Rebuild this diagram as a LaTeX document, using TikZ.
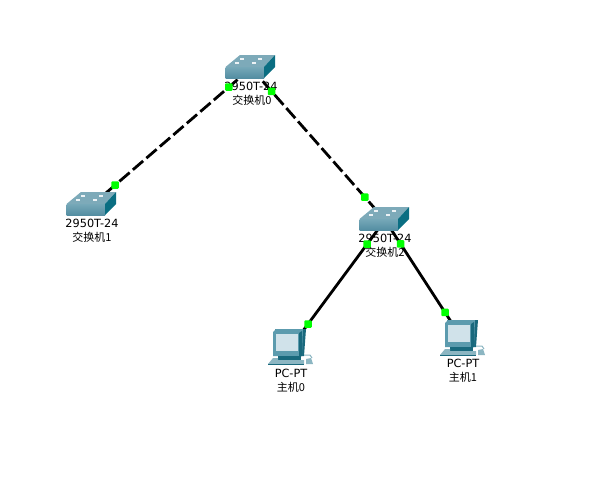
\documentclass[tikz,border=0pt]{standalone}
\usepackage{fontspec}
\setmainfont{DejaVu Sans}
\newfontfamily\cjkfont{Noto Sans CJK SC}
\usepackage{tikz}
\usetikzlibrary{calc}
\definecolor{swtop}  {RGB}{125, 170, 185}
\definecolor{swfront}{RGB}{118, 168, 184}
\definecolor{swshade}{RGB}{ 84, 142, 162}
\definecolor{swside} {RGB}{ 10, 110, 130}
\definecolor{pcframe}{RGB}{ 92, 155, 174}
\definecolor{pcdark} {RGB}{ 25, 105, 125}
\definecolor{pcscreen}{RGB}{208, 226, 234}
\definecolor{pcbase} {RGB}{140, 182, 194}
\definecolor{portgreen}{RGB}{0, 255, 0}

\begin{document}
\begin{tikzpicture}[
  x=1pt,y=-1pt,
  every node/.style={font=\fontsize{11.3}{13}\selectfont,inner sep=0pt},
  lbl/.style={text=black,align=center},
  namelbl/.style={text=black,align=center,font=\fontsize{11}{13}\selectfont\cjkfont},
  trunk/.style={black,line width=2.8pt,dash pattern=on 13.5pt off 4.3pt},
  access/.style={black,line width=2.8pt},
  portdot/.style={fill=portgreen,minimum size=7.5pt,rounded corners=1pt},
  switchicon/.pic={
    \fill[swtop] (-25.5,-1) -- (-11,-13) -- (24,-13) -- (13,-1) -- cycle;
    \shade[top color=swfront,bottom color=swshade] (-25.5,-1) rectangle (13,10);
    \fill[swside] (13,-1) -- (24,-13) -- (24,-1) -- (13,10) -- cycle;
    \foreach \px/\py in {-9/-9,-14/-5,3/-5,9/-9}
      \fill[white!85!swtop] (\px-2,\py-0.8) rectangle (\px+2,\py+0.8);
  },
  pcicon/.pic={
    % monitor
    \fill[pcdark] (-14,-17) -- (17,-17) -- (15,10) -- (11,10) -- cycle;
    \fill[pcframe] (-16,-14) -- (-13,-17) -- (14,-17) -- (13,10) -- (-16,10) -- cycle;
    \fill[pcdark] (10,-13) -- (13,-15) -- (13,10) -- (10,10) -- cycle;
    \fill[pcscreen] (-13,-12) -- (9,-12) -- (9,5) -- (-13,5) -- cycle;
    % base and keyboard
    \fill[pcdark] (-11,10) -- (12,10) -- (12,14) -- (-11,14) -- cycle;
    \fill[pcbase] (-16,12) -- (-11,12) -- (-11,14) -- (15,14) -- (15,18) -- (-21,18) -- cycle;
    \fill[pcdark] (-21,18) rectangle (15,19);
    % mouse
    \draw[pcbase,line width=1pt] (15,9) -- (21,9) -- (23,12);
    \fill[pcbase] (17,13) -- (22,12) -- (24,18) -- (17,18) -- cycle;
  },
]

%% Device positions
\coordinate (sw0) at (251,68);
\coordinate (sw1) at (92,205);
\coordinate (sw2) at (385,220);
\coordinate (pc0) at (291,347);
\coordinate (pc1) at (461,337);

%% Links
\draw[trunk] (sw0) -- (sw1);
\draw[trunk] (sw0) -- (sw2);
\draw[access] (sw2) -- (pc0);
\draw[access] (sw2) -- (pc1);

%% Devices
\pic at (sw0) {switchicon};
\pic at (sw1) {switchicon};
\pic at (sw2) {switchicon};
\pic at ($(pc0)+(-2,-1)$) {pcicon};
\pic at (pc1) {pcicon};

%% Labels
\node[lbl] (lblsw0) at (251,86) {2950T-24};
\node[namelbl] (namesw0) at (252,100) {交换机0};
\node[lbl] (lblsw1) at (92,223) {2950T-24};
\node[namelbl] (namesw1) at (92,237) {交换机1};
\node[lbl] (lblsw2) at (385,238) {2950T-24};
\node[namelbl] (namesw2) at (385,252) {交换机2};
\node[lbl] (lblpc0) at (291,373) {PC-PT};
\node[namelbl] (namepc0) at (291,387) {主机0};
\node[lbl] (lblpc1) at (463,363) {PC-PT};
\node[namelbl] (namepc1) at (463,377) {主机1};

%% Port lights
\path (sw0) -- (sw1)
  node[portdot,pos=.139] (p0a) {}
  node[portdot,pos=.854] (p1a) {};
\path (sw0) -- (sw2)
  node[portdot,pos=.153] (p0b) {}
  node[portdot,pos=.849] (p2a) {};
\path (sw2) -- (pc0)
  node[portdot,pos=.189] (p2b) {}
  node[portdot,pos=.819] (pc0a) {};
\path (sw2) -- (pc1)
  node[portdot,pos=.205] (p2c) {}
  node[portdot,pos=.79] (pc1a) {};

\useasboundingbox (0,0) rectangle (592,491);
\end{tikzpicture}
\end{document}
